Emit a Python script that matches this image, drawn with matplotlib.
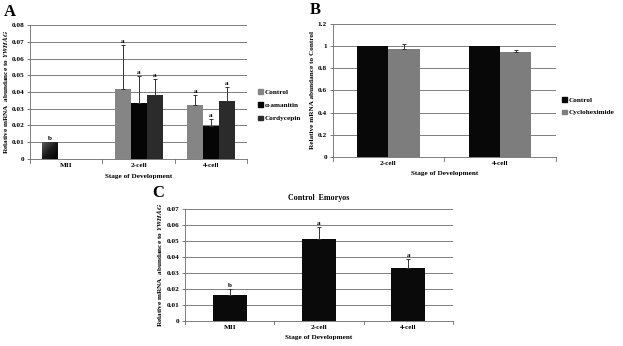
import numpy as np
import matplotlib
matplotlib.use("Agg")
import matplotlib.pyplot as plt
from matplotlib.patches import Patch
from matplotlib.colors import LinearSegmentedColormap

plt.rcParams['font.family'] = ['Liberation Serif', 'DejaVu Serif']
plt.rcParams['font.weight'] = 'bold'
plt.rcParams['axes.labelweight'] = 'bold'
plt.rcParams['axes.titleweight'] = 'bold'
plt.rcParams['mathtext.fontset'] = 'stix'

# panel A data
stages_a = ['MII', '2-cell', '4-cell']
series_a = ['Control', 'α-amanitin', 'Cordycepin']
vals_a = {
    'Control':    [0.010, 0.042, 0.032],
    'α-amanitin': [np.nan, 0.0335, 0.0195],
    'Cordycepin': [np.nan, 0.0385, 0.0345],
}
errs_a = {
    'Control':    [0.0, 0.026, 0.0065],
    'α-amanitin': [0.0, 0.016, 0.0045],
    'Cordycepin': [0.0, 0.0095, 0.0085],
}
letters_a = {
    'Control':    ['b', 'a', 'a'],
    'α-amanitin': ['', 'a', 'a'],
    'Cordycepin': ['', 'a', 'a'],
}
colors_a = {'Control': '#858585', 'α-amanitin': '#050505', 'Cordycepin': '#2b2b2b'}

# panel B data
stages_b = ['2-cell', '4-cell']
series_b = ['Control', 'Cycloheximide']
vals_b = {'Control': [1.0, 1.0], 'Cycloheximide': [0.975, 0.948]}
errs_b = {'Control': [0.0, 0.0], 'Cycloheximide': [0.05, 0.015]}
colors_b = {'Control': '#080808', 'Cycloheximide': '#7d7d7d'}

# panel C data
stages_c = ['MII', '2-cell', '4-cell']
vals_c = [0.016, 0.0515, 0.033]
errs_c = [0.004, 0.0075, 0.006]
letters_c = ['b', 'a', 'a']

FS = 5.2
ylab_a = 'Relative mRNA  abundance to $\\it{YWHAG}$'


def style_axes(ax, ymax, step, ncat):
    ax.set_ylim(0, ymax)
    ax.set_yticks(np.arange(0, ymax + step / 2, step))
    ax.yaxis.set_major_formatter(plt.FuncFormatter(lambda v, p: ('%g' % round(v, 4))))
    ax.grid(axis='y', color='#6a6a6a', linewidth=0.6)
    ax.set_axisbelow(True)
    for s in ['top', 'right']:
        ax.spines[s].set_visible(False)
    for s in ['left', 'bottom']:
        ax.spines[s].set_color('#6a6a6a')
        ax.spines[s].set_linewidth(0.6)
    ax.set_xlim(-0.5, ncat - 0.5)
    ax.set_xticks(np.arange(ncat))
    ax.tick_params(axis='x', length=0, labelsize=FS, pad=3)
    ax.tick_params(axis='y', length=2, labelsize=FS, width=0.6, color='#6a6a6a', pad=2)
    # small tick marks between categories
    for b in np.arange(-0.5, ncat):
        ax.plot([b, b], [0, -0.03 * ymax], color='#6a6a6a', lw=0.6, clip_on=False)
    ax.set_xlabel('Stage of Development', fontsize=FS, labelpad=4)


fig = plt.figure(figsize=(6.23, 3.46), dpi=100)

# ---- A ----
axA = fig.add_axes([0.048, 0.541, 0.349, 0.386])
w = 0.22
x = np.arange(len(stages_a))
for i, s in enumerate(series_a):
    xs = x + (i - 1) * w
    v = np.array(vals_a[s])
    e = np.array(errs_a[s])
    bars = axA.bar(xs, v, w, color=colors_a[s], zorder=2)
    for j in range(len(xs)):
        if np.isnan(v[j]):
            continue
        if e[j] > 0:
            axA.errorbar(xs[j], v[j], yerr=[[0], [e[j]]], fmt='none', ecolor='#333333',
                         elinewidth=0.7, capsize=1.5, capthick=0.7, zorder=3)
        if letters_a[s][j]:
            axA.text(xs[j], v[j] + e[j] + 0.0005, letters_a[s][j], ha='center', va='bottom',
                     fontsize=FS)
    if s == 'Control':
        # MII bar has a dark diagonal gradient
        b0 = bars[0]
        grad = np.add.outer(np.linspace(0, 1, 20), np.linspace(0, 1, 20))
        cm = LinearSegmentedColormap.from_list('mii', ['#5a5a5a', '#1a1a1a', '#000000'])
        im = axA.imshow(grad, cmap=cm, vmin=0, vmax=2, aspect='auto',
                        extent=[b0.get_x(), b0.get_x() + w, 0, v[0]], zorder=2.5)
        im.set_clip_path(b0)
style_axes(axA, 0.08, 0.01, 3)
axA.set_xticklabels(stages_a)
axA.set_ylabel(ylab_a, fontsize=FS, labelpad=1)
axA.legend(handles=[Patch(color=colors_a[s]) for s in series_a], labels=series_a,
           loc='center left', bbox_to_anchor=(1.02, 0.40), frameon=False, fontsize=FS,
           handlelength=0.6, handleheight=0.6, handletextpad=0.3, labelspacing=1.0)
fig.text(0.006, 0.966, 'A', fontsize=12, fontweight='bold', va='center')

# ---- B ----
axB = fig.add_axes([0.534, 0.547, 0.358, 0.383])
w = 0.28
x = np.arange(len(stages_b))
for i, s in enumerate(series_b):
    xs = x + (i - 0.5) * w
    axB.bar(xs, vals_b[s], w, color=colors_b[s], zorder=2)
    for j in range(len(xs)):
        if errs_b[s][j] > 0:
            axB.errorbar(xs[j], vals_b[s][j], yerr=[[0], [errs_b[s][j]]], fmt='none',
                         ecolor='#333333', elinewidth=0.7, capsize=1.5, capthick=0.7, zorder=3)
style_axes(axB, 1.2, 0.2, 2)
axB.set_xticklabels(stages_b)
axB.set_ylabel('Relative mRNA abundance to Control', fontsize=FS, labelpad=2)
axB.legend(handles=[Patch(color=colors_b[s]) for s in series_b], labels=series_b,
           loc='center left', bbox_to_anchor=(1.0, 0.38), frameon=False, fontsize=FS,
           handlelength=0.6, handleheight=0.6, handletextpad=0.3, labelspacing=0.9)
fig.text(0.497, 0.972, 'B', fontsize=12, fontweight='bold', va='center')

# ---- C ----
axC = fig.add_axes([0.297, 0.073, 0.430, 0.322])
x = np.arange(len(stages_c))
axC.bar(x, vals_c, 0.38, color='#0a0a0a', zorder=2)
axC.errorbar(x, vals_c, yerr=[np.zeros(3), errs_c], fmt='none', ecolor='#333333',
             elinewidth=0.7, capsize=1.5, capthick=0.7, zorder=3)
for j in range(len(x)):
    axC.text(x[j], vals_c[j] + errs_c[j] + 0.0005, letters_c[j], ha='center', va='bottom',
             fontsize=FS)
style_axes(axC, 0.07, 0.01, 3)
axC.set_xticklabels(stages_c)
axC.set_ylabel(ylab_a, fontsize=FS, labelpad=2)
axC.set_title('Control  Emoryos', fontsize=5.8, pad=7)
fig.text(0.245, 0.442, 'C', fontsize=12, fontweight='bold', va='center')

fig.savefig('out.png', dpi=100)
